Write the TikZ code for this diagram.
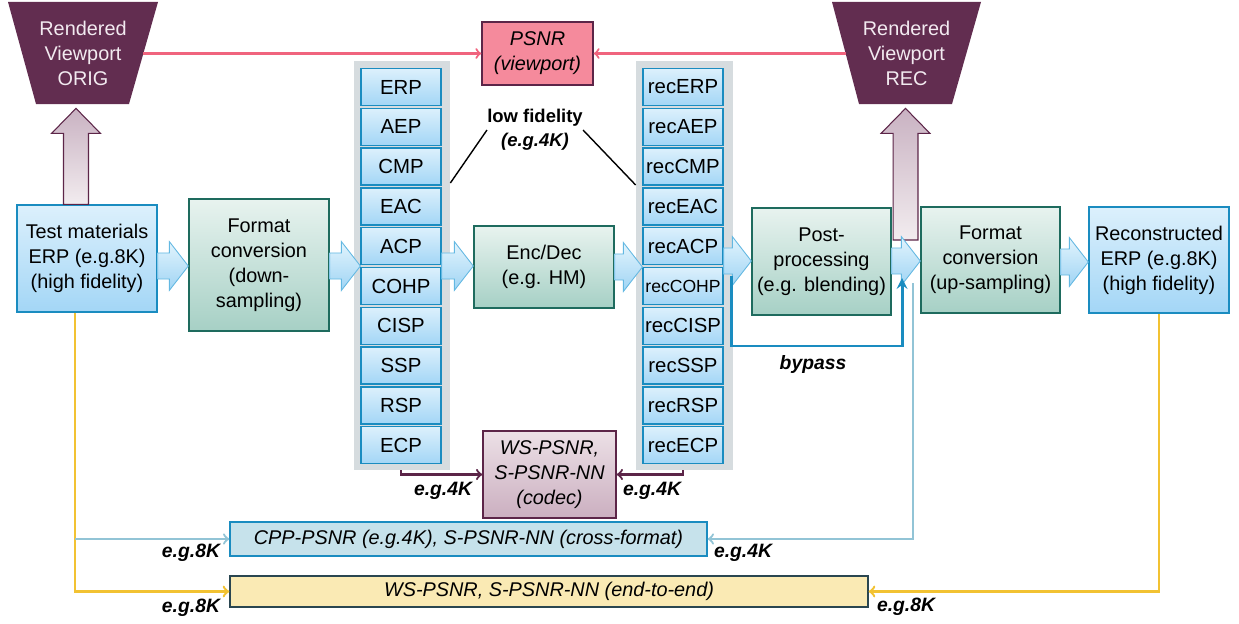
\documentclass[tikz,border=0pt]{standalone}
\usepackage{fontspec}
\setmainfont{Liberation Sans}
\usepackage{xcolor}
\usepackage{tikz}
\usetikzlibrary{positioning}
\usetikzlibrary{arrows,shapes}
\usetikzlibrary{calc}

\definecolor{vpurple}{HTML}{622D50}
\definecolor{vtext}{HTML}{F2EAF0}
\definecolor{pinkfill}{HTML}{F58A9C}
\definecolor{pinkline}{HTML}{F0647E}
\definecolor{dpurple}{HTML}{5C2548}
\definecolor{blueTop}{HTML}{DCF0FC}
\definecolor{blueBot}{HTML}{A3D6F6}
\definecolor{boxblue}{HTML}{1A8CC0}
\definecolor{greenTop}{HTML}{E8F3EF}
\definecolor{greenBot}{HTML}{A6D0C5}
\definecolor{boxgreen}{HTML}{1E6B5E}
\definecolor{stackgray}{HTML}{D6DCDF}
\definecolor{codecTop}{HTML}{ECE0E6}
\definecolor{codecBot}{HTML}{CBAFC0}
\definecolor{cppfill}{HTML}{C6E2EB}
\definecolor{e2efill}{HTML}{FAEAB4}
\definecolor{e2edraw}{HTML}{2A4650}
\definecolor{yline}{HTML}{F2C232}
\definecolor{cline}{HTML}{92C4D6}
\definecolor{arrTop}{HTML}{E2F4FD}
\definecolor{arrBot}{HTML}{9FD4F4}
\definecolor{arrdraw}{HTML}{63B8E2}
\definecolor{upTop}{HTML}{C9B2C2}
\definecolor{upBot}{HTML}{F2ECEF}

\newcommand{\mainsize}{\fontsize{11.3}{14.2}\selectfont}

% fat block arrow to the right: from, to, y of its axis
\newcommand{\fatright}[3]{%
 \path[fatarrow] let \p1=(#1 |- 0,#3), \p2=(#2 |- 0,#3) in
  (\x1,\y1+7.4pt) -- (\x2-10.8pt,\y1+7.4pt) -- (\x2-10.8pt,\y1+13.9pt) -- (\x2,\y1)
  -- (\x2-10.8pt,\y1-13.9pt) -- (\x2-10.8pt,\y1-7.4pt) -- (\x1,\y1-7.4pt) -- cycle;}
% fat block arrow upwards: from, to, x of its axis
\newcommand{\fatup}[3]{%
 \path[fatupstyle] let \p1=(#3,0 |- #1), \p2=(#3,0 |- #2) in
  (\x1-7.1pt,\y1) -- (\x1-7.1pt,\y2-16.5pt) -- (\x1-13.9pt,\y2-16.5pt) -- (\x1,\y2-2.3pt)
  -- (\x1+13.9pt,\y2-16.5pt) -- (\x1+7.1pt,\y2-16.5pt) -- (\x1+7.1pt,\y1) -- cycle;}

\begin{document}
\begin{tikzpicture}[x=0.2mm, y=-0.2mm, font=\mainsize, >=to,
  viewtext/.style={text=vtext, align=center, inner sep=0pt, minimum width=24mm, minimum height=20.2mm},
  psnrbox/.style={draw=dpurple, line width=0.8pt, fill=pinkfill, align=center, inner sep=0pt,
    minimum width=22.2mm, minimum height=12.6mm, font=\mainsize\itshape},
  bluebox/.style={draw=boxblue, line width=0.8pt, top color=blueTop, bottom color=blueBot,
    align=center, inner sep=0pt, minimum width=28mm},
  greenbox/.style={draw=boxgreen, line width=0.8pt, top color=greenTop, bottom color=greenBot,
    align=center, inner sep=0pt, minimum width=28mm},
  graybox/.style={fill=stackgray, inner sep=0pt, minimum height=81.8mm},
  stackbox/.style={draw=boxblue, line width=0.7pt, top color=blueTop, bottom color=blueBot,
    inner sep=0pt, minimum width=16mm, minimum height=7.4mm, font=\fontsize{11.6}{14}\selectfont},
  codecbox/.style={draw=dpurple, line width=0.8pt, top color=codecTop, bottom color=codecBot,
    align=center, inner sep=0pt, minimum width=26.6mm, minimum height=17.4mm, font=\mainsize\itshape},
  cppbox/.style={draw=boxblue, line width=0.8pt, fill=cppfill, inner sep=0pt,
    minimum width=95.4mm, minimum height=6.8mm, font=\mainsize\itshape},
  e2ebox/.style={draw=e2edraw, line width=0.8pt, fill=e2efill, inner sep=0pt,
    minimum width=127.6mm, minimum height=6.2mm, font=\mainsize\itshape},
  note/.style={inner sep=0pt, font=\fontsize{11}{13}\selectfont\bfseries\itshape},
  fatarrow/.style={draw=arrdraw, line width=0.5pt, top color=arrTop, bottom color=arrBot},
  fatupstyle/.style={draw=dpurple, line width=0.6pt, top color=upTop, bottom color=upBot},
  pinkedge/.style={pinkline, line width=1.2pt},
  codecline/.style={dpurple, line width=1.3pt},
  yedge/.style={yline, line width=1.4pt},
  cedge/.style={cline, line width=1.3pt},
  bypassline/.style={boxblue, line width=1.7pt}]

 \useasboundingbox (0,0) rectangle (1239,623);

 %viewports
 \fill[vpurple] (8,2) -- (158,2) -- (129,104) -- (36,104) -- cycle;
 \node[viewtext] (origview) at (83,53.5) {Rendered\\Viewport\\ORIG};
 \fill[vpurple] (832,2) -- (981,2) -- (952,104) -- (859,104) -- cycle;
 \node[viewtext] (recview) at (906.5,53.5) {Rendered\\Viewport\\REC};

 %psnr
 \node[psnrbox] (psnr) at (537.5,53.5) {PSNR\\(viewport)};

 %row
 \node[bluebox, minimum height=21.4mm] (test) at (87,258.5) {Test materials\\ERP (e.g.8K)\\(high fidelity)};
 \node[greenbox, minimum height=26.4mm] (fmtdown) at (259,265) {Format\\conversion\\(down-\\sampling)};
 \node[greenbox, minimum height=16.4mm] (enc) at (544,267) {Enc/Dec\\(e.g. HM)};
 \node[greenbox, minimum width=27.8mm, minimum height=21.4mm] (post) at (821.5,261.5) {Post-\\processing\\(e.g. blending)};
 \node[greenbox, minimum width=27.8mm, minimum height=21.2mm] (fmtup) at (990.5,260) {Format\\conversion\\(up-sampling)};
 \node[bluebox, minimum height=21.2mm] (recon) at (1159,260) {Reconstructed\\ERP (e.g.8K)\\(high fidelity)};

 %projection formats
 \node[graybox, minimum width=19.2mm] (lstack) at (402,265.5) {};
 \node[stackbox] (erp) at (401,87) {ERP};
 \node[stackbox] (aep) at (401,126.8) {AEP};
 \node[stackbox] (cmp) at (401,166.6) {CMP};
 \node[stackbox] (eac) at (401,206.4) {EAC};
 \node[stackbox] (acp) at (401,246.2) {ACP};
 \node[stackbox] (cohp) at (401,286) {COHP};
 \node[stackbox] (cisp) at (401,325.8) {CISP};
 \node[stackbox] (ssp) at (401,365.6) {SSP};
 \node[stackbox] (rsp) at (401,405.4) {RSP};
 \node[stackbox] (ecp) at (401,445.2) {ECP};

 %reconstructed formats
 \node[graybox, minimum width=19.4mm] (rstack) at (684.5,265.5) {};
 \node[stackbox] (recerp) at (683,87) {recERP};
 \node[stackbox] (recaep) at (683,126.8) {recAEP};
 \node[stackbox] (reccmp) at (683,166.6) {recCMP};
 \node[stackbox] (receac) at (683,206.4) {recEAC};
 \node[stackbox] (recacp) at (683,246.2) {recACP};
 \node[stackbox, font=\fontsize{10}{12}\selectfont] (reccohp) at (683,286) {recCOHP};
 \node[stackbox] (reccisp) at (683,325.8) {recCISP};
 \node[stackbox] (recssp) at (683,365.6) {recSSP};
 \node[stackbox] (recrsp) at (683,405.4) {recRSP};
 \node[stackbox] (rececp) at (683,445.2) {recECP};

 %low fidelity
 \node[align=center, inner sep=0pt, font=\fontsize{10.5}{13.5}\selectfont] (lowfid) at (535,130)
   {\bfseries low fidelity\\\bfseries\itshape (e.g.4K)};
 \path[draw, line width=0.8pt] (lowfid.west) -- (lstack.east |- 0,183);
 \path[draw, line width=0.8pt] (lowfid.east) -- (rstack.west |- 0,185);

 %metrics
 \node[codecbox] (codec) at (549.5,474.5) {WS-PSNR,\\S-PSNR-NN\\(codec)};
 \node[cppbox] (cpp) at (468.5,539) {CPP-PSNR (e.g.4K), S-PSNR-NN (cross-format)};
 \node[e2ebox] (e2e) at (549,591.5) {WS-PSNR, S-PSNR-NN (end-to-end)};

 %block arrows
 \coordinate (upbase) at (905.5,240);
 \fatup{test.north}{origview.south}{76}
 \fatup{upbase}{recview.south}{905.5}
 \fatright{test.east}{fmtdown.west}{266}
 \fatright{fmtdown.east}{acp.west}{266}
 \fatright{acp.east}{enc.west}{266}
 \fatright{enc.east}{recacp.west}{267}
 \fatright{recacp.east}{post.west}{261}
 \fatright{post.east}{fmtup.west}{261}
 \fatright{fmtup.east}{recon.west}{262}

 %lines
 \path[draw, pinkedge, ->] (origview.east) -- (psnr.west);
 \path[draw, pinkedge, ->] (recview.west) -- (psnr.east);
 \path[draw, codecline, ->] (ecp |- lstack.south) |- (codec.west);
 \path[draw, codecline, ->] (rececp |- rstack.south) |- (codec.east);

 \coordinate (tap) at ([xshift=-2.4mm]test.south);
 \coordinate (posttap) at (913,283);
 \path[draw, yedge, ->] (tap) |- (e2e.west);
 \path[draw, cedge, ->] (tap |- cpp.west) -- (cpp.west);
 \path[draw, yedge, ->] (recon.south) |- (e2e.east);
 \path[draw, cedge, ->] (posttap) |- (cpp.east);

 %bypass
 \coordinate (bypassin) at (731,276);
 \coordinate (bypassout) at (902,278);
 \path[draw, bypassline, -stealth] (bypassin) -- ++(0,70) -| (bypassout);
 \node[note] (bypasslbl) at (813,364) {bypass};

 %labels
 \node[note] (n1) at (443,491) {e.g.4K};
 \node[note] (n2) at (652,491) {e.g.4K};
 \node[note] (n3) at (191,553) {e.g.8K};
 \node[note] (n4) at (743,553) {e.g.4K};
 \node[note] (n5) at (191,608) {e.g.8K};
 \node[note] (n6) at (906,607) {e.g.8K};

\end{tikzpicture}
\end{document}
